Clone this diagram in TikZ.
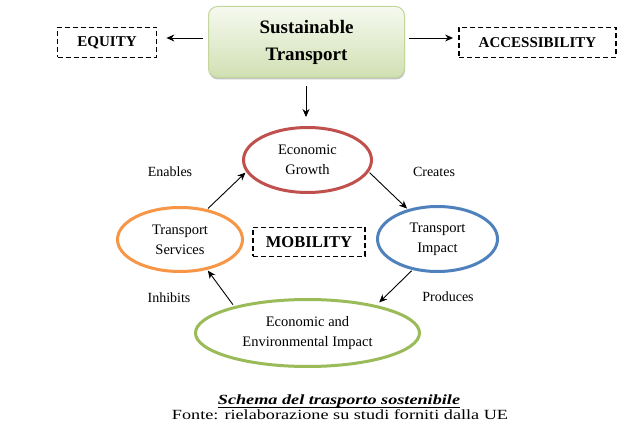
\documentclass[tikz,border=0pt]{standalone}
\usepackage{fontspec}
\setmainfont{Liberation Serif}
\usetikzlibrary{arrows.meta,shapes.geometric,shadows}
\definecolor{cred}{HTML}{C0504D}
\definecolor{cblue}{HTML}{4F81BD}
\definecolor{corange}{HTML}{F79646}
\definecolor{cgreen}{HTML}{9BBB59}
\definecolor{gtop}{HTML}{F6F9EF}
\definecolor{gbot}{HTML}{D1E0B3}
\definecolor{gline}{HTML}{C3D69B}
\tikzset{
  dbox/.style={draw=black, dash pattern=on 5pt off 3pt, line width=1.8pt, inner sep=0pt, font=\fontsize{15}{18}\selectfont\bfseries},
  cyc/.style={ellipse, line width=3pt, inner sep=0pt, align=center, font=\fontsize{14.5}{20}\selectfont},
  arr/.style={-{Stealth[length=8pt,width=7pt]}, line width=0.9pt},
  lbl/.style={font=\fontsize{14}{17}\selectfont}
}
\begin{document}
\begin{tikzpicture}[x=1pt,y=-1pt]
\useasboundingbox[fill=white] (0,0) rectangle (618,446);
% top
\node[rounded corners=9pt, draw=gline, line width=1pt, top color=gtop, bottom color=gbot,
      drop shadow={shadow xshift=0.5pt, shadow yshift=-2pt, opacity=0.45, fill=gray},
      minimum width=196pt, minimum height=71pt, align=center,
      font=\fontsize{19}{27}\selectfont\bfseries] (st) at (306.5,42) {Sustainable\\Transport};
\node[dbox, minimum width=99pt, minimum height=30pt] (eq) at (107,42.5) {EQUITY};
\node[dbox, minimum width=157pt, minimum height=30pt] (acc) at (537.5,42.5) {ACCESSIBILITY};
\draw[arr, shorten <=5pt, shorten >=9pt] (st.west |- 0,38) coordinate (stw) -- (eq.east |- 0,38) coordinate (eqe);
\draw[arr, shorten <=4pt, shorten >=5pt] (st.east |- 0,38) coordinate (ste) -- (acc.west |- 0,38) coordinate (accw);
\coordinate (dn) at (306,117);
\draw[arr, shorten <=8pt] (st.south -| dn) coordinate (sts) -- (dn);
% cycle
\node[cyc, draw=cred, minimum width=128pt, minimum height=65pt] (gr) at (307.5,160) {Economic\\Growth};
\node[cyc, draw=cblue, minimum width=120pt, minimum height=65pt] (im) at (437.5,239) {Transport\\Impact};
\node[cyc, draw=corange, minimum width=125pt, minimum height=64pt] (sv) at (180,239.5) {Transport\\Services};
\node[cyc, draw=cgreen, minimum width=224pt, minimum height=67pt] (ee) at (307.5,333) {Economic and\\Environmental Impact};
\node[dbox, minimum width=112pt, minimum height=29pt, font=\fontsize{16.5}{19}\selectfont\bfseries] (mob) at (309,242) {MOBILITY};
\draw[arr, shorten <=1pt, shorten >=1pt] (sv.48) -- (gr.191);
\draw[arr, shorten <=1pt, shorten >=1pt] (gr.349) -- (im.135);
\draw[arr, shorten <=1pt, shorten >=4pt] (im.231) -- (ee.22);
\draw[arr, shorten <=2pt, shorten >=1pt] (ee.160) -- (sv.312);
\node[lbl] (l1) at (170,172) {Enables};
\node[lbl] (l2) at (434,172) {Creates};
\node[lbl] (l3) at (169,298) {Inhibits};
\node[lbl] (l4) at (448,297) {Produces};
% caption
\node[anchor=base, inner sep=0pt, font=\fontsize{14}{16}\selectfont\bfseries\itshape] (c1) at (339,404) {\scalebox{1.3}[1]{Schema del trasporto sostenibile}};
\draw[line width=1.2pt] ([yshift=-3.5pt]c1.base west) -- ([yshift=-3.5pt]c1.base east);
\node[anchor=base, inner sep=0pt, font=\fontsize{14}{16}\selectfont] (c2) at (340,419) {\scalebox{1.3}[1]{Fonte: rielaborazione su studi forniti dalla UE}};
\end{tikzpicture}
\end{document}
